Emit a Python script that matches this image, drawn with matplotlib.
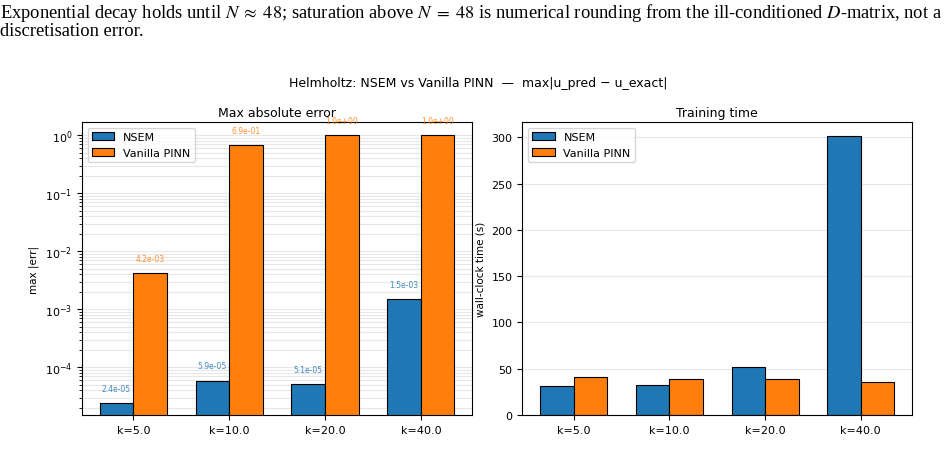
import matplotlib
matplotlib.use("Agg")
import matplotlib.pyplot as plt
import numpy as np

# k values and results
k_labels = ["k=5.0", "k=10.0", "k=20.0", "k=40.0"]
nsem_err = [2.4e-05, 5.9e-05, 5.1e-05, 1.5e-03]
pinn_err = [4.2e-03, 6.9e-01, 1.0e+00, 1.0e+00]
nsem_time = [31.0, 32.0, 51.5, 301.5]
pinn_time = [41.5, 38.5, 39.0, 35.5]

plt.rcParams["mathtext.fontset"] = "stix"

fig = plt.figure(figsize=(9.48, 4.56), dpi=100)

# notebook text above the chart
note = ("Exponential decay holds until $N\\;\\approx\\;48$; saturation above $N\\;=\\;48$ is numerical "
        "rounding from the ill-conditioned $D$-matrix, not a")
fig.text(0.0, 1 - 18 / 456, note, family="Liberation Serif", fontsize=13.3, va="baseline")
fig.text(0.0, 1 - 36 / 456, "discretisation error.", family="Liberation Serif", fontsize=13.3,
         va="baseline")

ax1 = fig.add_axes([0.0865, 0.0877, 0.4115, 0.6425])
ax2 = fig.add_axes([0.551, 0.0877, 0.411, 0.6425])

x = np.arange(len(k_labels))
w = 0.35

b1 = ax1.bar(x - w / 2, nsem_err, w, label="NSEM", color="C0", edgecolor="black", linewidth=0.8)
b2 = ax1.bar(x + w / 2, pinn_err, w, label="Vanilla PINN", color="C1", edgecolor="black", linewidth=0.8)
ax1.set_yscale("log")
ax1.set_ylim(1.5e-5, 1.7)
for bars, vals, c in [(b1, nsem_err, "C0"), (b2, pinn_err, "C1")]:
    for b, v in zip(bars, vals):
        ax1.text(b.get_x() + b.get_width() / 2, v * 1.5, f"{v:.1e}", ha="center", va="bottom",
                 fontsize=5.5, color=c, alpha=0.85)
ax1.set_xticks(x)
ax1.set_xticklabels(k_labels, fontsize=8)
ax1.tick_params(axis="y", labelsize=8)
ax1.set_ylabel("max |err|", fontsize=7.5)
ax1.set_title("Max absolute error", fontsize=9, pad=4)
ax1.grid(True, which="both", axis="y", alpha=0.3)
ax1.set_axisbelow(True)
ax1.legend(loc="upper left", fontsize=8)

ax2.bar(x - w / 2, nsem_time, w, label="NSEM", color="C0", edgecolor="black", linewidth=0.8)
ax2.bar(x + w / 2, pinn_time, w, label="Vanilla PINN", color="C1", edgecolor="black", linewidth=0.8)
ax2.set_xticks(x)
ax2.set_xticklabels(k_labels, fontsize=8)
ax2.tick_params(axis="y", labelsize=8)
ax2.set_ylabel("wall-clock time (s)", fontsize=7.5)
ax2.set_title("Training time", fontsize=9, pad=4)
ax2.grid(True, axis="y", alpha=0.3)
ax2.set_axisbelow(True)
ax2.legend(loc="upper left", fontsize=8)

fig.text(0.504, 1 - 84 / 456, "Helmholtz: NSEM vs Vanilla PINN  \u2014  max|u_pred \u2212 u_exact|",
         ha="center", va="center", fontsize=9)

fig.savefig("out.png", dpi=100)
